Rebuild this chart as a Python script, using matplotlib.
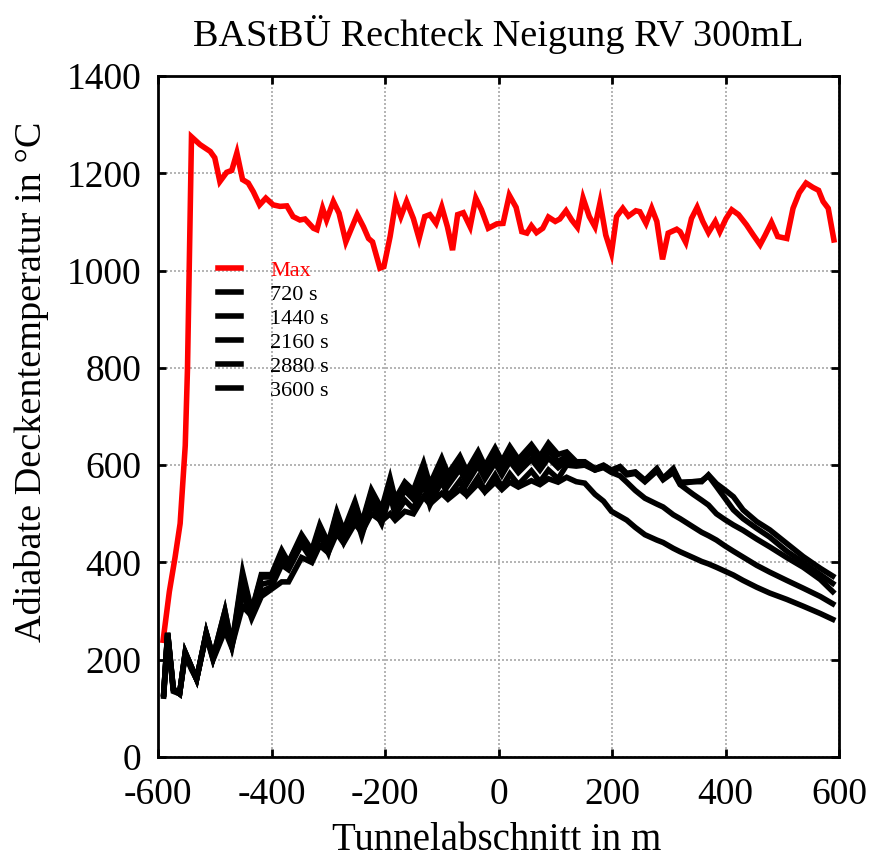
import matplotlib
matplotlib.use("Agg")
import matplotlib.pyplot as plt

plt.rcParams['font.family'] = ['Liberation Serif', 'DejaVu Serif']
plt.rcParams['axes.unicode_minus'] = False

title = "BAStBÜ Rechteck Neigung RV 300mL"
xlabel = "Tunnelabschnitt in m"
ylabel = "Adiabate Deckentemperatur in °C"

x_max = [-591,-580,-570,-561,-552,-548,-541,-526,-508,-500,
         -491,-479,-470,-461,-451,-441,-432,-421,-410,-397,
         -385,-373,-362,-350,-341,-326,-320,-310,-303,-291,
         -281,-269,-259,-249,-238,-229,-222,-209,-202,-191,
         -181,-172,-162,-150,-140,-130,-121,-110,-100,-90,
         -81,-72,-62,-50,-40,-30,-18,-3,8,19,
         31,41,50,58,67,78,88,100,108,119,
         129,139,149,160,170,179,189,199,208,219,
         229,242,249,260,270,279,289,299,314,320,
         330,340,350,360,370,382,390,401,411,423,
         437,449,461,470,481,492,508,519,530,542,
         554,564,572,581,591]
y_max = [240,340,410,480,640,800,1275,1259,1245,1232,
         1183,1202,1206,1242,1187,1180,1162,1135,1149,1135,
         1132,1133,1111,1104,1106,1087,1084,1128,1104,1142,
         1118,1059,1087,1115,1090,1066,1059,1005,1008,1070,
         1142,1111,1142,1107,1066,1111,1115,1097,1131,1090,
         1042,1115,1119,1090,1149,1125,1087,1096,1097,1155,
         1130,1080,1077,1092,1078,1087,1110,1101,1106,1123,
         1104,1089,1149,1111,1090,1140,1073,1036,1111,1128,
         1112,1123,1121,1097,1128,1101,1023,1077,1085,1080,
         1058,1107,1130,1101,1078,1101,1080,1107,1125,1115,
         1094,1073,1053,1073,1099,1070,1066,1128,1160,1180,
         1171,1165,1142,1128,1063]

x_t = [-590,-583,-573,-562,-552,-541,-532,-515,-503,-482,
       -470,-451,-435,-418,-400,-382,-370,-347,-329,-315,
       -300,-285,-273,-253,-241,-224,-206,-191,-182,-165,
       -150,-132,-121,-100,-89,-68,-56,-36,-24,-6,
       6,20,35,58,73,88,105,120,137,152,
       170,185,199,214,226,241,258,279,290,308,
       320,343,358,370,384,399,414,431,455,478,
       508,537,567,589]

y_720 = [125,250,135,130,210,180,160,250,200,260,
         225,340,285,330,345,360,360,410,400,435,
         420,460,440,480,462,500,485,500,487,505,
         500,535,520,542,530,550,538,562,545,565,
         550,565,555,568,560,572,565,575,566,563,
         540,526,505,495,487,472,457,446,441,429,
         422,410,402,397,390,382,374,363,349,337,
         324,310,295,283]
y_1440 = [128,252,138,130,212,183,160,252,202,275,
          228,310,290,340,350,395,385,437,405,457,
          420,482,443,500,455,520,480,540,497,528,
          510,562,518,568,535,568,540,575,547,580,
          555,582,560,588,566,590,572,600,598,600,
          590,595,585,578,565,548,532,520,514,498,
          490,473,462,455,446,434,423,411,394,380,
          363,347,330,315]
y_2160 = [130,255,140,130,215,185,160,255,205,290,
          230,340,295,355,360,410,395,447,415,467,
          430,494,455,515,470,537,497,558,515,548,
          530,582,538,590,558,592,562,600,572,605,
          580,608,585,612,590,615,595,610,603,603,
          590,597,587,594,580,583,566,588,570,585,
          560,540,528,518,500,488,477,466,448,432,
          410,390,365,340]
y_2880 = [130,255,140,130,215,185,160,255,205,300,
          230,370,300,370,370,420,400,452,420,472,
          435,500,460,520,476,544,505,566,524,558,
          540,594,550,602,570,605,575,614,585,620,
          594,623,598,627,604,630,608,618,605,605,
          592,598,588,596,582,585,568,591,572,590,
          562,566,568,578,556,532,508,490,470,452,
          423,400,375,357]
y_3600 = [130,255,140,130,215,185,160,255,205,300,
          230,380,300,375,375,425,400,457,425,477,
          440,504,465,525,480,549,510,573,530,565,
          548,604,560,614,582,618,588,628,598,635,
          608,638,612,642,618,645,622,627,607,607,
          593,600,590,597,583,586,569,593,573,593,
          565,566,566,580,562,549,535,508,484,467,
          439,412,388,372]

series_labels = ["720 s", "1440 s", "2160 s", "2880 s", "3600 s"]
series_values = [y_720, y_1440, y_2160, y_2880, y_3600]

xticks = [-600, -400, -200, 0, 200, 400, 600]
yticks = [0, 200, 400, 600, 800, 1000, 1200, 1400]

fig = plt.figure(figsize=(8.69, 8.60), dpi=100)
ax = fig.add_axes([158/869, 1-757/860, 681/869, 681/860])

ax.plot(x_max, y_max, color='#ff0000', lw=4.0, label='Max', zorder=3,
        solid_joinstyle='miter')
for lab, vals in zip(series_labels, series_values):
    ax.plot(x_t, vals, color='black', lw=4.0, label=lab, zorder=3,
            solid_joinstyle='miter')

ax.set_xlim(-600, 600)
ax.set_ylim(0, 1400)
ax.set_xticks(xticks)
ax.set_yticks(yticks)
ax.grid(True, linestyle=(0, (1.2, 1.2)), color='#a8a8a8', linewidth=1.2)
ax.tick_params(direction='in', top=True, right=True, length=6, width=2,
               labelsize=27, colors='black')
ax.tick_params(axis='x', pad=15)
ax.tick_params(axis='y', pad=12)
for s in ax.spines.values():
    s.set_linewidth(2)

fig.text(497/869, 1-840/860, xlabel, fontsize=28, ha='center', va='center')
fig.text(32/869, 1-382/860, ylabel, fontsize=27.5, ha='center', va='center',
         rotation=90)
fig.text(498/869, 1-35/860, title, fontsize=27.5, ha='center', va='center')

leg = ax.legend(loc='upper left', bbox_to_anchor=(0.088, 0.729), frameon=False,
                fontsize=16, handlelength=1.05, handletextpad=1.3,
                labelspacing=0.15, borderpad=0, borderaxespad=0,
                labelcolor='linecolor')

fig.savefig('out.png', dpi=100)
